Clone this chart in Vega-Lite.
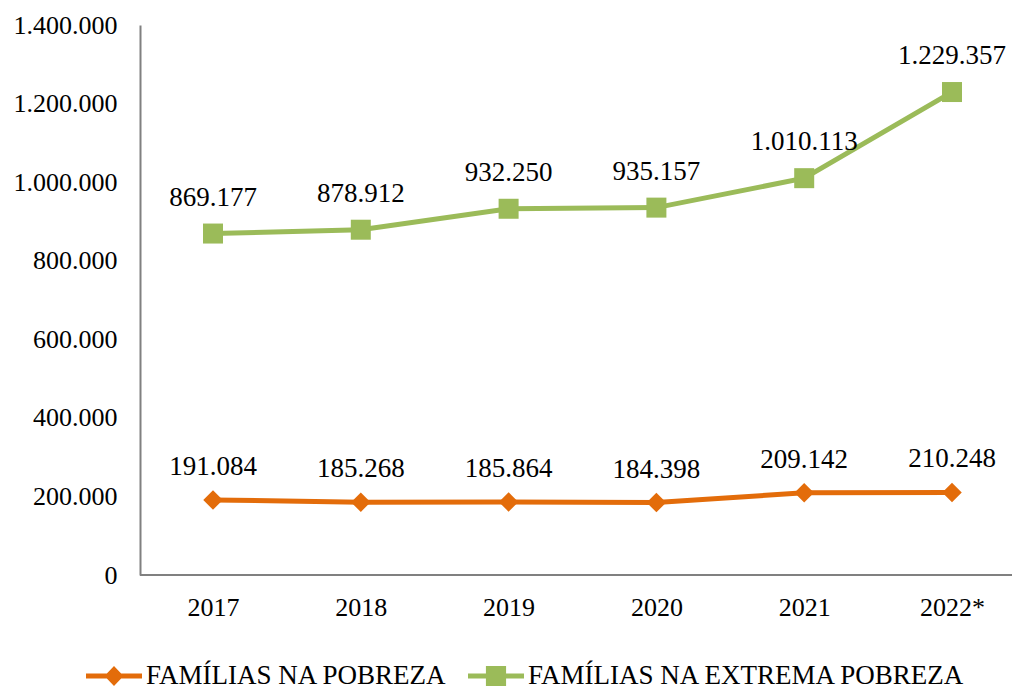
{
  "$schema": "https://vega.github.io/schema/vega-lite/v6.json",
  "width": 872,
  "height": 550,
  "autosize": {"type": "none"},
  "padding": {"left": 140, "top": 25, "right": 0, "bottom": 115},
  "background": "white",
  "config": {
    "view": {"stroke": null},
    "font": "Liberation Serif, Times New Roman, serif",
    "locale": {"number": {"decimal": ",", "thousands": ".", "grouping": [3], "currency": ["", ""]}}
  },
  "data": {
    "values": [
      {"ano": "2017", "serie": "FAMÍLIAS NA POBREZA", "valor": 191084},
      {"ano": "2018", "serie": "FAMÍLIAS NA POBREZA", "valor": 185268},
      {"ano": "2019", "serie": "FAMÍLIAS NA POBREZA", "valor": 185864},
      {"ano": "2020", "serie": "FAMÍLIAS NA POBREZA", "valor": 184398},
      {"ano": "2021", "serie": "FAMÍLIAS NA POBREZA", "valor": 209142},
      {"ano": "2022*", "serie": "FAMÍLIAS NA POBREZA", "valor": 210248},
      {"ano": "2017", "serie": "FAMÍLIAS NA EXTREMA POBREZA", "valor": 869177},
      {"ano": "2018", "serie": "FAMÍLIAS NA EXTREMA POBREZA", "valor": 878912},
      {"ano": "2019", "serie": "FAMÍLIAS NA EXTREMA POBREZA", "valor": 932250},
      {"ano": "2020", "serie": "FAMÍLIAS NA EXTREMA POBREZA", "valor": 935157},
      {"ano": "2021", "serie": "FAMÍLIAS NA EXTREMA POBREZA", "valor": 1010113},
      {"ano": "2022*", "serie": "FAMÍLIAS NA EXTREMA POBREZA", "valor": 1229357}
    ]
  },
  "layer": [
    {
      "mark": {"type": "rule", "color": "#808080", "strokeWidth": 2},
      "encoding": {"y": {"datum": 0, "type": "quantitative"}}
    },
    {
      "encoding": {
        "x": {
          "field": "ano", "type": "ordinal", "sort": null,
          "scale": {"type": "point", "range": [73, 812], "padding": 0},
          "axis": {"title": null, "domain": false, "ticks": false, "tickSize": 0, "labelAngle": 0,
                   "labelFont": "Liberation Serif, Times New Roman, serif", "labelFontSize": 26, "labelColor": "#000000", "labelPadding": 19}
        },
        "y": {
          "field": "valor", "type": "quantitative",
          "scale": {"domain": [0, 1400000], "nice": false, "zero": true},
          "axis": {"title": null, "values": [0, 200000, 400000, 600000, 800000, 1000000, 1200000, 1400000],
                   "format": ",d", "grid": false, "ticks": false, "tickSize": 0,
                   "domainColor": "#808080", "domainWidth": 2,
                   "labelFont": "Liberation Serif, Times New Roman, serif", "labelFontSize": 26, "labelColor": "#000000", "labelPadding": 23}
        }
      },
      "layer": [
        {
          "mark": {"type": "line", "strokeWidth": 5},
          "encoding": {
            "color": {
              "field": "serie", "type": "nominal",
              "scale": {"domain": ["FAMÍLIAS NA POBREZA", "FAMÍLIAS NA EXTREMA POBREZA"], "range": ["#E36C0A", "#9BBB59"]},
              "legend": {
                "title": null, "orient": "none", "legendX": -54, "legendY": 623, "direction": "horizontal",
                "labelFont": "Liberation Serif, Times New Roman, serif", "labelFontSize": 27, "labelColor": "#000000", "labelOffset": 4,
                "labelLimit": 700,
                "columnPadding": 20, "symbolSize": 3136, "symbolStrokeWidth": 0,
                "symbolType": "M-1,-0.09L1,-0.09L1,0.09L-1,0.09Z",
                "encode": {
                  "symbols": {
                    "update": {
                      "shape": {"signal": "datum.value === 'FAMÍLIAS NA POBREZA' ? 'M-1,-0.09L1,-0.09L1,0.09L-1,0.09Z M-0.34,0L0,-0.36L0.34,0L0,0.36Z' : 'M-1,-0.09L1,-0.09L1,0.09L-1,0.09Z M-0.36,-0.36L0.36,-0.36L0.36,0.36L-0.36,0.36Z'"},
                      "fill": {"signal": "datum.value === 'FAMÍLIAS NA POBREZA' ? '#E36C0A' : '#9BBB59'"},
                      "fillOpacity": {"value": 1},
                      "strokeWidth": {"value": 0},
                      "size": {"value": 3136}
                    }
                  }
                }
              }
            }
          }
        },
        {
          "transform": [{"filter": "datum.serie === 'FAMÍLIAS NA POBREZA'"}],
          "mark": {"type": "point", "shape": "diamond", "filled": true, "color": "#E36C0A", "size": 380, "opacity": 1}
        },
        {
          "transform": [{"filter": "datum.serie === 'FAMÍLIAS NA EXTREMA POBREZA'"}],
          "mark": {"type": "point", "shape": "square", "filled": true, "color": "#9BBB59", "size": 400, "opacity": 1}
        },
        {
          "transform": [{"filter": "datum.serie === 'FAMÍLIAS NA POBREZA'"}],
          "mark": {"type": "text", "dy": -25, "baseline": "alphabetic", "font": "Liberation Serif, Times New Roman, serif", "fontSize": 27, "color": "#000000"},
          "encoding": {"text": {"field": "valor", "type": "quantitative", "format": ",d"}}
        },
        {
          "transform": [{"filter": "datum.serie === 'FAMÍLIAS NA EXTREMA POBREZA'"}],
          "mark": {"type": "text", "dy": -28, "baseline": "alphabetic", "font": "Liberation Serif, Times New Roman, serif", "fontSize": 27, "color": "#000000"},
          "encoding": {"text": {"field": "valor", "type": "quantitative", "format": ",d"}}
        }
      ]
    }
  ]
}
